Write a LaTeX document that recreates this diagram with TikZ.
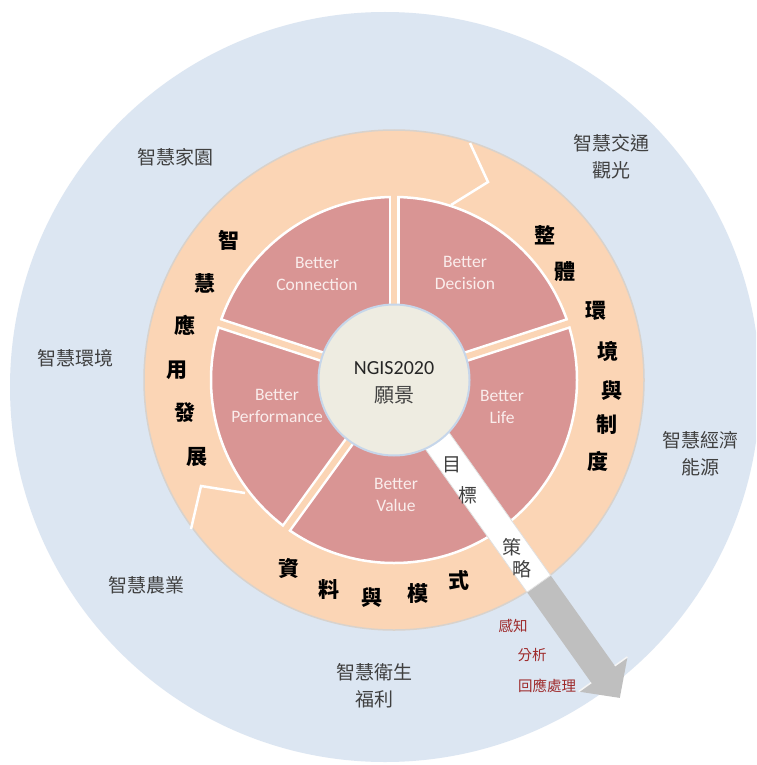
\documentclass[tikz,border=0pt]{standalone}
\usepackage{fontspec}
\newfontfamily\cjk{Noto Sans CJK TC}
\newfontfamily\calfont{Carlito}
\definecolor{bluebg}{HTML}{DCE6F2}
\definecolor{orangering}{HTML}{FBD5B5}
\definecolor{pinkslice}{HTML}{D99594}
\definecolor{centerfill}{HTML}{EEECE1}
\definecolor{centeredge}{HTML}{C6D6EA}
\definecolor{txtgray}{HTML}{404040}
\definecolor{betterc}{HTML}{FAEDEC}
\definecolor{actionred}{HTML}{9E2A2B}
\definecolor{arrowgray}{HTML}{BFBFBF}
\definecolor{ringedge}{HTML}{D8D2CC}
\tikzset{
  outerlabel/.style={font=\cjk\fontsize{19}{27}\selectfont, text=txtgray, align=center, inner sep=0pt},
  ringchar/.style={font=\cjk\bfseries\fontsize{21}{21}\selectfont, text=black, inner sep=0pt},
  bettertext/.style={font=\calfont\fontsize{17.5}{22}\selectfont, text=betterc, align=center, inner sep=0pt},
  bandchar/.style={font=\cjk\fontsize{19}{19}\selectfont, text=txtgray, inner sep=0pt},
  actiontext/.style={font=\cjk\fontsize{14.5}{14.5}\selectfont, text=actionred, inner sep=0pt},
  zigzag/.style={draw=white, line width=2.5pt, line join=miter},
}
\begin{document}
\begin{tikzpicture}[x=1pt,y=-1pt]
\useasboundingbox (0,0) rectangle (756,765);
\clip (0,0) rectangle (756,765);
\fill[white] (0,0) rectangle (756,765);
\coordinate (c) at (394,380);
% outer blue disk
\fill[bluebg] (385,387) circle (375);
% orange ring
\filldraw[fill=orangering, draw=ringedge, line width=1.5pt] (c) circle (250);
% pink pie
\filldraw[fill=pinkslice, draw=white, line width=2.5pt] (c) circle (183);
\foreach \a in {-90,-18,54,126,-162}{
  \draw[white, line width=11pt, shift={(c)}] (0,0) -- (\a:184);
  \draw[orangering, line width=6pt, shift={(c)}] (0,0) -- (\a:192);
}
% zigzag dividers in the orange ring
\draw[zigzag] (470,143) -- (488,182) -- (451,205);
\draw[zigzag] (191,529) -- (201,486) -- (245,493);
% arrow (gray shaft and head)
\coordinate (b1) at (527.0,592.2);
\coordinate (b2) at (550.6,575.4);
\coordinate (s2) at (614.8,665.8);
\coordinate (h2) at (627.5,656.8);
\coordinate (tip) at (619.8,697.9);
\coordinate (h1) at (578.6,691.6);
\coordinate (s1) at (591.2,682.6);
\fill[arrowgray] (b1) -- (b2) -- (s2) -- (h2) -- (tip) -- (h1) -- (s1) -- cycle;
\draw[white!85!arrowgray, line width=1.5pt] (s2) -- (h2);
\draw[white!85!arrowgray, line width=1.5pt] (h1) -- (s1);
% white band
\coordinate (a1) at (405.8,371.6);
\coordinate (a2) at (382.2,388.4);
\filldraw[fill=white, draw=black!12, line width=0.8pt] (a2) -- (b1) -- (b2) -- (a1) -- cycle;
% center disk
\node[circle, minimum size=151pt, fill=centerfill, draw=centeredge, line width=2pt, inner sep=0pt] (hub) at (c) {};
\node[font=\calfont\fontsize{20}{20}\selectfont, text=black!85, inner sep=0pt] (ngis) at (394,368) {NGIS2020};
\node[font=\cjk\fontsize{20}{20}\selectfont, text=black!75, inner sep=0pt] (vision) at (394,395) {願景};
% slice labels
\node[bettertext] (conn) at (317,274) {Better\\Connection};
\node[bettertext] (deci) at (465,273) {Better\\Decision};
\node[bettertext] (life) at (502,407) {Better\\Life};
\node[bettertext] (perf) at (277,406) {Better\\Performance};
\node[bettertext] (valu) at (396,495) {Better\\Value};
% left column
\node[ringchar] (l1) at (229,240) {智};
\node[ringchar] (l2) at (205,283) {慧};
\node[ringchar] (l3) at (185,325) {應};
\node[ringchar] (l4) at (177,370) {用};
\node[ringchar] (l5) at (185,413) {發};
\node[ringchar] (l6) at (197,457) {展};
% right column
\node[ringchar] (r1) at (545,235) {整};
\node[ringchar] (r2) at (565,272) {體};
\node[ringchar] (r3) at (596,311) {環};
\node[ringchar] (r4) at (608,351) {境};
\node[ringchar] (r5) at (612,391) {與};
\node[ringchar] (r6) at (607,425) {制};
\node[ringchar] (r7) at (598,461) {度};
% bottom arc
\node[ringchar] (d1) at (289,568) {資};
\node[ringchar] (d2) at (329,590) {料};
\node[ringchar] (d3) at (372,598) {與};
\node[ringchar] (d4) at (418,594) {模};
\node[ringchar] (d5) at (459,580) {式};
% band text
\node[bandchar] (g1) at (452,465) {目};
\node[bandchar] (g2) at (468,495) {標};
\node[bandchar] (g3) at (512,547) {策};
\node[bandchar] (g4) at (522,569) {略};
% red action text
\node[actiontext] (act1) at (513,626) {感知};
\node[actiontext] (act2) at (532,655) {分析};
\node[actiontext] (act3) at (547,686) {回應處理};
% outer labels
\node[outerlabel] (home) at (175,157) {智慧家園};
\node[outerlabel] (traffic) at (611,157) {智慧交通\\觀光};
\node[outerlabel] (envir) at (75,358) {智慧環境};
\node[outerlabel] (econ) at (700,454) {智慧經濟\\能源};
\node[outerlabel] (agri) at (146,585) {智慧農業};
\node[outerlabel] (health) at (374,686) {智慧衛生\\福利};
\end{tikzpicture}
\end{document}
